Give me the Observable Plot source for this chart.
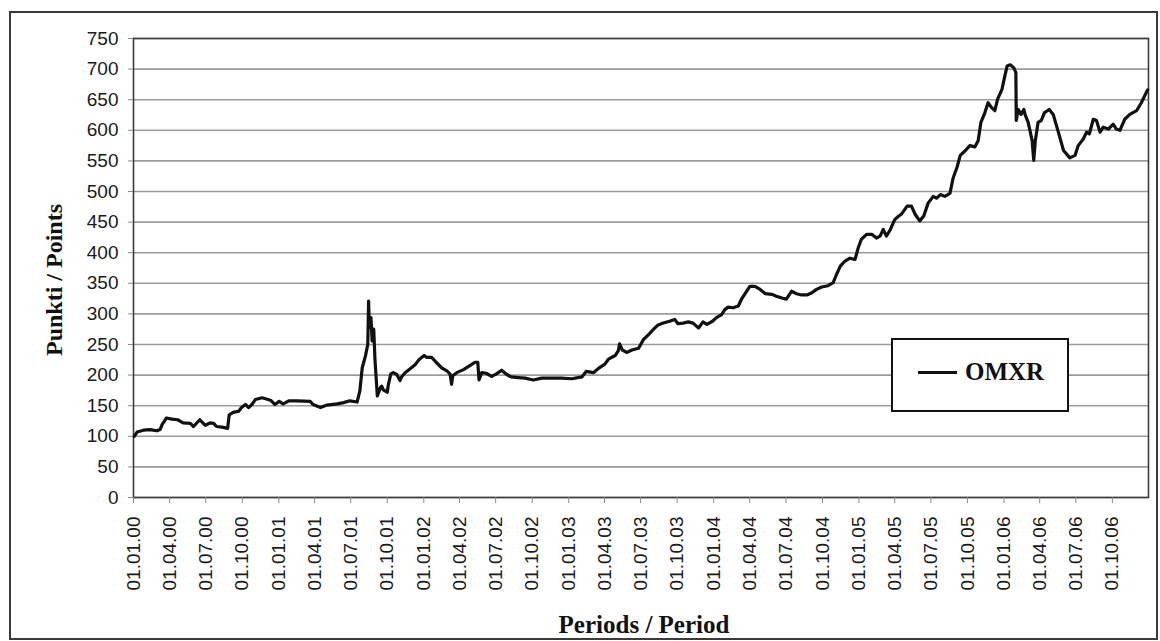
<!DOCTYPE html>
<html>
<head>
<meta charset="utf-8">
<script src="https://cdn.jsdelivr.net/npm/d3@7"></script>
<script src="https://cdn.jsdelivr.net/npm/@observablehq/plot@0.6"></script>
<style>
  html, body { margin: 0; padding: 0; background: #fff; }
  #wrap { position: relative; width: 1160px; height: 641px; overflow: hidden; background: #fff; }
  #border { position: absolute; left: 9px; top: 11px; width: 1149px; height: 629px; border: 2px solid #3a3a3a; box-sizing: border-box; }
  #chart { position: absolute; left: 0; top: 0; }
  #legend { position: absolute; left: 891px; top: 338px; width: 178px; height: 74px; border: 2.5px solid #111; box-sizing: border-box; background: #fff; }
  #legend .swatch { position: absolute; left: 25px; top: 31px; width: 39px; height: 3px; background: #111; }
  #legend .lab { position: absolute; left: 72px; top: 19px; font-family: "Liberation Serif", "Times New Roman", serif; font-weight: bold; font-size: 25px; line-height: 25px; color: #111; white-space: nowrap; }
</style>
</head>
<body>
<div id="wrap">
  <div id="border"></div>
  <div id="chart"></div>
  <div id="legend"><div class="swatch"></div><div class="lab">OMXR</div></div>
</div>
<script>
// ---- Data ----
const seriesName = "OMXR";
const yTitle = "Punkti / Points";
const xTitle = "Periods / Period";

const dates = [
  "2000-01-03","2000-01-10","2000-01-26","2000-02-11","2000-02-29","2000-03-08","2000-03-13","2000-03-24",
  "2000-04-07","2000-04-21","2000-05-05","2000-05-23","2000-05-31","2000-06-16","2000-06-30","2000-07-12",
  "2000-07-21","2000-07-28","2000-08-11","2000-08-25","2000-08-29","2000-09-08","2000-09-22","2000-09-29",
  "2000-10-09","2000-10-17","2000-10-25","2000-11-03","2000-11-20","2000-12-11","2000-12-22",
  "2001-01-02","2001-01-12","2001-01-26","2001-02-16","2001-03-21","2001-03-28","2001-04-16","2001-05-02",
  "2001-05-28","2001-06-13","2001-06-29","2001-07-17","2001-07-24","2001-07-30","2001-08-07","2001-08-13",
  "2001-08-15","2001-08-17","2001-08-21","2001-08-24","2001-08-28","2001-08-31","2001-09-06","2001-09-14",
  "2001-09-17","2001-09-21","2001-10-01","2001-10-04","2001-10-10","2001-10-16","2001-10-25","2001-11-02",
  "2001-11-06","2001-11-15","2001-11-27","2001-12-10","2001-12-21",
  "2002-01-02","2002-01-08","2002-01-21","2002-02-01","2002-02-15","2002-02-28","2002-03-08","2002-03-12",
  "2002-03-15","2002-03-25","2002-04-11","2002-04-26","2002-05-10","2002-05-17","2002-05-20","2002-05-27",
  "2002-06-07","2002-06-21","2002-07-03","2002-07-16","2002-07-29","2002-08-09","2002-08-27","2002-09-13",
  "2002-10-04","2002-10-25","2002-11-19","2002-12-13",
  "2003-01-09","2003-02-03","2003-02-14","2003-03-04","2003-03-17","2003-04-02","2003-04-11","2003-04-28",
  "2003-05-06","2003-05-09","2003-05-16","2003-05-27","2003-06-09","2003-06-26","2003-07-08","2003-07-21",
  "2003-08-01","2003-08-14","2003-08-27","2003-09-12","2003-09-25","2003-10-03","2003-10-16","2003-10-29",
  "2003-11-10","2003-11-24","2003-12-05","2003-12-15","2003-12-29",
  "2004-01-08","2004-01-21","2004-01-29","2004-02-06","2004-02-19","2004-03-03","2004-03-11","2004-03-19",
  "2004-04-01","2004-04-14","2004-04-27","2004-05-10","2004-05-26","2004-06-07","2004-06-21","2004-07-02",
  "2004-07-15","2004-07-28","2004-08-09","2004-08-23","2004-09-03","2004-09-16","2004-09-29","2004-10-15",
  "2004-10-28","2004-11-05","2004-11-15","2004-11-26","2004-12-09","2004-12-22","2004-12-30",
  "2005-01-07","2005-01-20","2005-02-02","2005-02-14","2005-02-23","2005-03-03","2005-03-11","2005-03-21",
  "2005-04-01","2005-04-11","2005-04-18","2005-05-02","2005-05-13","2005-05-23","2005-06-03","2005-06-13",
  "2005-06-24","2005-07-07","2005-07-15","2005-07-25","2005-08-05","2005-08-18","2005-08-26","2005-09-05",
  "2005-09-13","2005-09-26","2005-10-07","2005-10-20","2005-10-28","2005-11-04","2005-11-14","2005-11-22",
  "2005-12-01","2005-12-09","2005-12-16","2005-12-27",
  "2006-01-03","2006-01-09","2006-01-17","2006-01-26","2006-01-31","2006-02-01","2006-02-06","2006-02-13",
  "2006-02-20","2006-02-23","2006-03-03","2006-03-13","2006-03-17","2006-03-21","2006-03-28","2006-04-05",
  "2006-04-13","2006-04-25","2006-05-05","2006-05-18","2006-05-31","2006-06-16","2006-06-29","2006-07-07",
  "2006-07-20","2006-07-28","2006-08-04","2006-08-14","2006-08-22","2006-08-31","2006-09-08","2006-09-21",
  "2006-10-03","2006-10-11","2006-10-20","2006-11-01","2006-11-14","2006-12-01","2006-12-13","2006-12-27",
  "2006-12-29"
];

const values = [
  100,107,110,111,109,111,119,130,
  128,127,122,121,116,127,118,122,
  121,116,115,113,135,139,141,147,
  152,147,152,160,163,159,152,
  157,153,158,158,157,152,147,151,
  153,155,158,156,174,212,231,250,
  321,278,294,256,275,226,166,180,
  182,176,172,185,202,204,201,191,
  197,204,210,217,226,
  232,229,229,221,212,207,202,185,
  199,204,209,215,221,221,192,204,
  203,198,202,208,201,197,196,195,
  192,195,195,195,
  194,197,206,204,211,218,226,232,
  240,251,241,237,241,244,258,266,
  274,282,285,288,291,284,285,287,
  285,277,287,283,288,
  294,299,307,311,310,313,324,332,
  345,345,340,333,332,329,326,324,
  337,333,331,331,334,340,344,346,
  351,364,378,386,391,389,408,
  422,430,430,424,427,438,427,438,
  454,460,463,476,476,462,452,460,
  481,492,489,495,492,497,522,540,
  559,567,575,573,583,613,629,645,
  637,632,651,667,
  688,705,707,702,694,616,634,626,
  634,626,613,583,551,583,613,616,
  629,634,626,597,567,555,559,575,
  586,597,594,618,616,597,605,602,
  610,602,600,618,626,632,645,664,
  666
];

const tickDates = [
  "2000-01-01","2000-04-01","2000-07-01","2000-10-01",
  "2001-01-01","2001-04-01","2001-07-01","2001-10-01",
  "2002-01-01","2002-04-01","2002-07-01","2002-10-01",
  "2003-01-01","2003-04-01","2003-07-01","2003-10-01",
  "2004-01-01","2004-04-01","2004-07-01","2004-10-01",
  "2005-01-01","2005-04-01","2005-07-01","2005-10-01",
  "2006-01-01","2006-04-01","2006-07-01","2006-10-01"
];
const yTicks = [0,50,100,150,200,250,300,350,400,450,500,550,600,650,700,750];
const xDomain = ["2000-01-01", "2006-12-31"];
const yDomain = [0, 750];

// ---- Build ----
const data = dates.map((d, i) => ({date: new Date(d + "T00:00:00Z"), value: values[i]}));
const ticks = tickDates.map(d => new Date(d + "T00:00:00Z"));
const fmt = d3.utcFormat("%d.%m.%y");

const sans = "'Liberation Sans', Arial, Helvetica, sans-serif";
const serif = "'Liberation Serif', 'Times New Roman', Times, serif";

const chart = Plot.plot({
  width: 1160,
  height: 641,
  marginLeft: 133,
  marginRight: 12,
  marginTop: 38,
  marginBottom: 144,
  style: {fontFamily: sans, fontSize: "19px", color: "#1a1a1a", background: "transparent", overflow: "visible"},
  x: {type: "utc", domain: xDomain.map(d => new Date(d + "T00:00:00Z"))},
  y: {domain: yDomain},
  marks: [
    Plot.gridY(yTicks, {stroke: "#9c9c9c", strokeOpacity: 1, strokeWidth: 1.6}),
    Plot.frame({stroke: "#3c3c3c", strokeWidth: 1.6}),
    Plot.axisY(yTicks, {tickSize: 5, tickPadding: 10, label: null, stroke: "#8a8a8a", fontSize: 19, fill: "#1a1a1a"}),
    Plot.axisX(ticks, {tickSize: 6, tickPadding: 13, tickRotate: -90, tickFormat: fmt, label: null, stroke: "#8a8a8a", fontSize: 19, fill: "#1a1a1a"}),
    Plot.lineY(data, {x: "date", y: "value", stroke: "#111", strokeWidth: 3.2, strokeLinejoin: "round"}),
    Plot.text([yTitle], {text: d => d, frameAnchor: "left", textAnchor: "middle", lineAnchor: "middle", dx: -79, dy: 12, rotate: -90, fontFamily: serif, fontWeight: "bold", fontSize: 24, fill: "#111"}),
    Plot.text([xTitle], {text: d => d, frameAnchor: "bottom", textAnchor: "middle", lineAnchor: "middle", dx: 3, dy: 127, fontFamily: serif, fontWeight: "bold", fontSize: 25, fill: "#111"})
  ]
});
document.getElementById("chart").appendChild(chart);
document.querySelector("#legend .lab").textContent = seriesName;
</script>
</body>
</html>
